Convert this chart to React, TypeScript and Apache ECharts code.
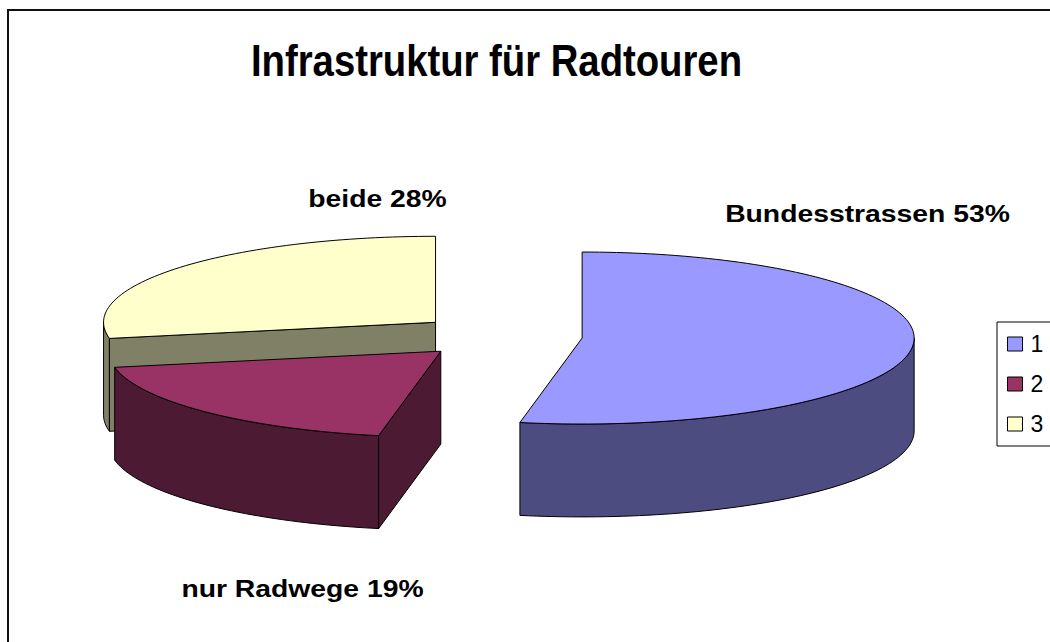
import React, { useEffect, useRef } from "react";
import * as echarts from "echarts";

// ---- data ----
const categories = ["Bundesstrassen", "nur Radwege", "beide"];
const legendLabels = ["1", "2", "3"];
const values = [53, 19, 28];
const topColors = ["#9999FF", "#993366", "#FFFFCC"];
const sideColors = ["#4C4C80", "#4D1A33", "#808066"];
const titleText = "Infrastruktur für Radtouren";

const total = values.reduce((a, b) => a + b, 0);
const DEPTH = 1.08; // side height in y-units
const EXPLODE = 0.25;

function makeSeries(i: number) {
  const startFrac = values.slice(0, i).reduce((a, b) => a + b, 0) / total;
  return {
    type: "custom",
    name: legendLabels[i],
    coordinateSystem: "cartesian2d",
    clip: false,
    itemStyle: { color: topColors[i], borderColor: "#000", borderWidth: 1 },
    data: [[values[i]]],
    renderItem: (params: any, api: any) => {
      const v = api.value(0);
      const a0 = startFrac * Math.PI * 2;
      const a1 = a0 + (v / total) * Math.PI * 2;
      const mid = (a0 + a1) / 2;
      const ox = EXPLODE * Math.sin(mid);
      const oy = EXPLODE * Math.cos(mid);
      const P = (th: number, dz: number) =>
        api.coord([ox + Math.sin(th), oy + Math.cos(th) - dz]);
      const C = (dz: number) => api.coord([ox, oy - dz]);
      const base = Math.round(-Math.cos(mid) * 100) * 10;
      const children: any[] = [];
      const stroke = { stroke: "#000", lineWidth: 1, lineJoin: "round" };
      const arc = (s: number, e: number, dz: number) => {
        const pts: number[][] = [];
        const n = Math.max(2, Math.ceil(((e - s) / Math.PI) * 180 / 1.5));
        for (let k = 0; k <= n; k++) pts.push(P(s + ((e - s) * k) / n, dz));
        return pts;
      };
      // outer side (front half only)
      const s0 = Math.max(a0, Math.PI / 2);
      const s1 = Math.min(a1, (Math.PI * 3) / 2);
      if (s1 > s0) {
        const pts = arc(s0, s1, 0).concat(arc(s0, s1, DEPTH).reverse());
        children.push({
          type: "polygon",
          z2: base,
          shape: { points: pts },
          style: { fill: sideColors[i], ...stroke },
        });
      }
      // cut face at start angle
      if (Math.sin(a0) < -1e-9) {
        children.push({
          type: "polygon",
          z2: base,
          shape: { points: [C(0), P(a0, 0), P(a0, DEPTH), C(DEPTH)] },
          style: { fill: sideColors[i], ...stroke },
        });
      }
      // cut face at end angle
      if (Math.sin(a1) > 1e-9) {
        children.push({
          type: "polygon",
          z2: base,
          shape: { points: [C(0), P(a1, 0), P(a1, DEPTH), C(DEPTH)] },
          style: { fill: sideColors[i], ...stroke },
        });
      }
      // top face
      children.push({
        type: "polygon",
        z2: base + 1,
        shape: { points: [C(0)].concat(arc(a0, a1, 0)) },
        style: { fill: topColors[i], ...stroke },
      });
      return { type: "group", children };
    },
  };
}

const labelPos = [
  { x: 867.5, y: 213.5 },
  { x: 302.5, y: 588.5 },
  { x: 377.5, y: 198.5 },
];

export default function App() {
  const ref = useRef<HTMLDivElement>(null);
  useEffect(() => {
    if (!ref.current) return;
    const chart = echarts.init(ref.current, undefined, { renderer: "svg" });
    const labelTexts = categories.map((c, i) => ({
      type: "text",
      x: labelPos[i].x,
      y: labelPos[i].y,
      scaleX: 1.18,
      z: 10,
      style: {
        text: `${c} ${Math.round((values[i] / total) * 100)}%`,
        fontSize: 24,
        fontWeight: "bold",
        fontFamily: "Liberation Sans, Arial, sans-serif",
        fill: "#000",
        textAlign: "center",
        align: "center",
        textVerticalAlign: "middle",
        verticalAlign: "middle",
      },
    }));
    chart.setOption({
      animation: false,
      backgroundColor: "#fff",
      grid: { left: 1.5, top: 164, width: 996, height: 344 },
      xAxis: { type: "value", min: -1.5, max: 1.5, show: false },
      yAxis: { type: "value", min: -2, max: 2, show: false },
      legend: {
        orient: "vertical",
        left: 997,
        top: 322,
        itemWidth: 15,
        itemHeight: 14,
        itemGap: 16,
        padding: [10, 40, 10, 10],
        borderColor: "#000",
        borderWidth: 1,
        backgroundColor: "#fff",
        icon: "rect",
        selectedMode: false,
        textStyle: {
          fontSize: 23,
          lineHeight: 24,
          padding: [0, 0, 0, 3],
          fontFamily: "Liberation Sans, Arial, sans-serif",
          color: "#000",
        },
        itemStyle: { borderColor: "#000", borderWidth: 1 },
        data: legendLabels,
      },
      graphic: [
        {
          type: "rect",
          z: 0,
          shape: { x: 8, y: 10, width: 1100, height: 700 },
          style: { fill: "none", stroke: "#111", lineWidth: 2 },
        },
        {
          type: "text",
          x: 496.5,
          y: 61,
          scaleX: 0.87,
          z: 10,
          style: {
            text: titleText,
            fontSize: 44,
            fontWeight: "bold",
            fontFamily: "Liberation Sans, Arial, sans-serif",
            fill: "#000",
            textAlign: "center",
            align: "center",
            textVerticalAlign: "middle",
            verticalAlign: "middle",
          },
        },
        ...labelTexts,
      ],
      series: values.map((_, i) => makeSeries(i)),
    });
    return () => chart.dispose();
  }, []);
  return (
    <div
      ref={ref}
      style={{ position: "fixed", left: 0, top: 0, width: 1050, height: 642 }}
    />
  );
}
